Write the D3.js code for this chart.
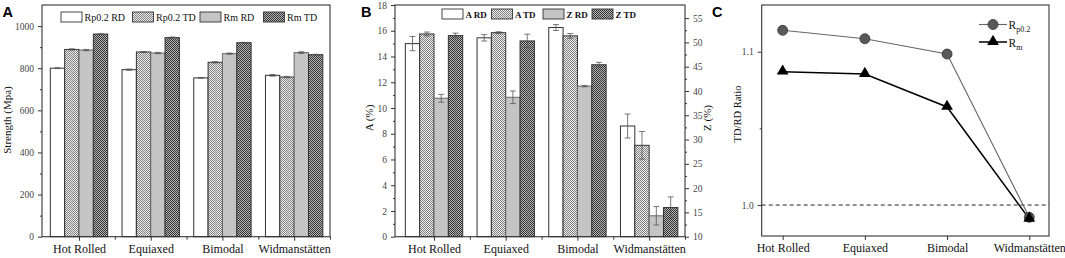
<!DOCTYPE html>
<html>
<head>
<meta charset="utf-8">
<script src="https://cdn.jsdelivr.net/npm/d3@7"></script>
<style>
body { margin: 0; background: #fff; }
svg text { font-family: "Liberation Serif", "DejaVu Serif", serif; }
</style>
</head>
<body>
<div id="chart"></div>
<script>
var categories = ["Hot Rolled", "Equiaxed", "Bimodal", "Widmanstätten"];

// panel A: strength (MPa)
var rpRD = [800, 793, 754, 766];
var rpTD = [889, 877, 828, 758];
var rmRD = [886, 872, 869, 874];
var rmTD = [962, 945, 921, 864];
var rpRDErr = [2, 3, 2, 4];
var rpTDErr = [3, 2, 3, 3];
var rmRDErr = [3, 3, 3, 4];
var rmTDErr = [2, 3, 2, 2];

// panel B: elongation A (%) and reduction of area Z (%)
var aRD = [15.0, 15.45, 16.25, 8.6];
var aRDErr = [0.55, 0.25, 0.23, 0.93];
var aTD = [15.75, 15.85, 15.6, 7.1];
var aTDErr = [0.15, 0.07, 0.18, 1.07];
var zRD = [38.5, 38.7, 41.0, 14.3];
var zRDErr = [0.8, 1.3, 0.15, 1.9];
var zTD = [51.4, 50.3, 45.4, 16.0];
var zTDErr = [0.5, 1.4, 0.5, 2.2];

// panel C: TD/RD ratio
var ratioRp = [1.114, 1.1085, 1.0985, 0.992];
var ratioRm = [1.087, 1.0855, 1.064, 0.991];

var SERIF = "Liberation Serif, DejaVu Serif, serif";
var W = 1065, H = 258;
var svg = d3.select("#chart").append("svg")
    .attr("width", W)
    .attr("height", H)
    .attr("font-family", SERIF);

// fill patterns
var defs = svg.append("defs");
function checker(id, bg, fg) {
  var p = defs.append("pattern")
      .attr("id", id)
      .attr("width", 2).attr("height", 2)
      .attr("patternUnits", "userSpaceOnUse");
  p.append("rect").attr("width", 2).attr("height", 2).attr("fill", bg);
  p.append("rect").attr("width", 1).attr("height", 1).attr("fill", fg);
  p.append("rect").attr("x", 1).attr("y", 1).attr("width", 1).attr("height", 1).attr("fill", fg);
}
checker("lightCheck", "#eeeeee", "#808080");
checker("darkCheck", "#b5b5b5", "#333333");

var fills = ["#fff", "url(#lightCheck)", "#c4c4c4", "url(#darkCheck)"];
var strokes = ["#333", "#333", "#666", "#333"];

function styleAxis(g, fontSize) {
  g.attr("font-family", null).attr("font-size", null);
  g.select(".domain").remove();
  g.selectAll("line").attr("stroke", "#333");
  g.selectAll("text")
    .attr("font-size", fontSize)
    .attr("font-family", SERIF)
    .attr("fill", "#444");
}

function frame(x0, y0, x1, y1) {
  svg.append("rect")
    .attr("x", x0).attr("y", y0)
    .attr("width", x1 - x0).attr("height", y1 - y0)
    .attr("fill", "none")
    .attr("stroke", "#333")
    .attr("stroke-width", 1.1);
}

function catAxis(x, yPos, minor) {
  var g = svg.append("g").attr("transform", "translate(0," + yPos + ")");
  g.call(d3.axisBottom(x).tickValues([0, 1, 2, 3]).tickSize(4)
      .tickFormat(function(d) { return categories[d]; }));
  styleAxis(g, 12);
  g.selectAll("text").attr("fill", "#111").attr("y", 0).attr("dy", 16.3);
  if (minor) {
    var m = svg.append("g").attr("transform", "translate(0," + yPos + ")");
    m.call(d3.axisBottom(x).tickValues([0.5, 1.5, 2.5, 3.5]).tickSize(3).tickFormat(""));
    styleAxis(m, 9);
  }
}

function leftAxis(y, xPos, major, minor, fmt) {
  var g = svg.append("g").attr("transform", "translate(" + xPos + ",0)");
  g.call(d3.axisLeft(y).tickValues(major).tickSize(4).tickPadding(4).tickFormat(fmt));
  styleAxis(g, 9.5);
  var m = svg.append("g").attr("transform", "translate(" + xPos + ",0)");
  m.call(d3.axisLeft(y).tickValues(minor).tickSize(2).tickFormat(""));
  styleAxis(m, 9);
}

function panelLabel(t, x) {
  svg.append("text")
    .attr("x", x).attr("y", 16.5)
    .attr("font-size", 14.5)
    .attr("font-weight", "bold")
    .attr("font-family", "Liberation Sans, Arial, sans-serif")
    .style("font-family", "Liberation Sans, Arial, sans-serif")
    .text(t);
}

function yTitle(t, x, y, size) {
  svg.append("text")
    .attr("transform", "translate(" + x + "," + y + ") rotate(-90)")
    .attr("text-anchor", "middle")
    .attr("font-size", size)
    .attr("fill", "#111")
    .text(t);
}

function errorBar(g, cx, yTop, yBot) {
  g.append("line").attr("x1", cx).attr("x2", cx).attr("y1", yTop).attr("y2", yBot);
  g.append("line").attr("x1", cx - 3).attr("x2", cx + 3).attr("y1", yTop).attr("y2", yTop);
  g.append("line").attr("x1", cx - 3).attr("x2", cx + 3).attr("y1", yBot).attr("y2", yBot);
}

function legendBoxes(items, yTop, fontSize, weight) {
  items.forEach(function(it, j) {
    svg.append("rect")
      .attr("x", it.x).attr("y", yTop)
      .attr("width", 21).attr("height", 10)
      .attr("fill", fills[j]).attr("stroke", "#333").attr("stroke-width", 0.9);
    svg.append("text")
      .attr("x", it.x + 23.5).attr("y", yTop + 9)
      .attr("font-size", fontSize)
      .attr("font-weight", weight)
      .attr("fill", "#111")
      .text(it.label);
  });
}

// ---------------- Panel A ----------------
(function() {
  var left = 42, right = 330, top = 5, bottom = 236.7;
  var x = d3.scaleLinear().domain([-0.516, 3.5]).range([left, right]);
  var y = d3.scaleLinear().domain([0, 1100]).range([bottom, top]);
  var bw = (x(1) - x(0)) * 0.2;
  var series = [rpRD, rpTD, rmRD, rmTD];
  var errs = [rpRDErr, rpTDErr, rmRDErr, rmTDErr];

  var g = svg.append("g");
  series.forEach(function(s, j) {
    g.selectAll(null).data(s).enter().append("rect")
      .attr("x", function(d, i) { return x(i) - 2 * bw + j * bw; })
      .attr("y", function(d) { return y(d); })
      .attr("width", bw)
      .attr("height", function(d) { return y(0) - y(d); })
      .attr("fill", fills[j])
      .attr("stroke", strokes[j])
      .attr("stroke-width", 1);
  });
  var eg = svg.append("g").attr("stroke", "#555").attr("stroke-width", 0.8);
  series.forEach(function(s, j) {
    s.forEach(function(d, i) {
      var cx = x(i) - 2 * bw + j * bw + bw / 2;
      errorBar(eg, cx, y(d + errs[j][i]), y(d - errs[j][i]));
    });
  });

  frame(left, top, right, bottom);
  leftAxis(y, left, d3.range(0, 1001, 200), d3.range(100, 1000, 200), d3.format("d"));
  catAxis(x, bottom, true);
  yTitle("Strength (Mpa)", 10.5, 120, 11);
  panelLabel("A", 2.5);
  legendBoxes([
    {x: 61, label: "Rp0.2 RD"}, {x: 132.5, label: "Rp0.2 TD"},
    {x: 200, label: "Rm RD"}, {x: 263.5, label: "Rm TD"}
  ], 12, 10, "normal");
})();

// ---------------- Panel B ----------------
(function() {
  var left = 395, right = 685, top = 5, bottom = 236.7;
  var x = d3.scaleLinear().domain([-0.544, 3.5]).range([left, right]);
  var yA = d3.scaleLinear().domain([0, 18]).range([bottom, top]);
  var yZ = d3.scaleLinear().domain([10, 57.7]).range([bottom, top]);
  var bw = (x(1) - x(0)) * 0.2;
  var series = [aRD, aTD, zRD, zTD];
  var errs = [aRDErr, aTDErr, zRDErr, zTDErr];
  var scales = [yA, yA, yZ, yZ];

  var g = svg.append("g");
  series.forEach(function(s, j) {
    var y = scales[j];
    g.selectAll(null).data(s).enter().append("rect")
      .attr("x", function(d, i) { return x(i) - 2 * bw + j * bw; })
      .attr("y", function(d) { return y(d); })
      .attr("width", bw)
      .attr("height", function(d) { return bottom - y(d); })
      .attr("fill", fills[j])
      .attr("stroke", strokes[j])
      .attr("stroke-width", 1);
  });
  var eg = svg.append("g").attr("stroke", "#555").attr("stroke-width", 0.8);
  series.forEach(function(s, j) {
    var y = scales[j];
    s.forEach(function(d, i) {
      var cx = x(i) - 2 * bw + j * bw + bw / 2;
      errorBar(eg, cx, y(d + errs[j][i]), y(d - errs[j][i]));
    });
  });

  frame(left, top, right, bottom);
  leftAxis(yA, left, d3.range(0, 18.1, 2), d3.range(1, 18, 2), d3.format("d"));

  var r = svg.append("g").attr("transform", "translate(" + right + ",0)");
  r.call(d3.axisRight(yZ).tickValues(d3.range(10, 56, 5)).tickSize(4).tickPadding(4));
  styleAxis(r, 9.5);
  var rm = svg.append("g").attr("transform", "translate(" + right + ",0)");
  rm.call(d3.axisRight(yZ).tickValues(d3.range(12.5, 56, 5)).tickSize(2).tickFormat(""));
  styleAxis(rm, 9);

  catAxis(x, bottom, true);
  yTitle("A (%)", 373, 118, 11);
  yTitle("Z (%)", 711, 118, 11);
  panelLabel("B", 361);
  legendBoxes([
    {x: 442, label: "A RD"}, {x: 491.5, label: "A TD"},
    {x: 543, label: "Z RD"}, {x: 592, label: "Z TD"}
  ], 9, 9, "bold");
})();

// ---------------- Panel C ----------------
(function() {
  var left = 761.7, right = 1049, top = 5, bottom = 236;
  var x = d3.scaleLinear().domain([-0.255, 3.24]).range([left, right]);
  var y = d3.scaleLinear().domain([0.9798, 1.1305]).range([bottom, top]);

  svg.append("line")
    .attr("x1", left).attr("x2", right)
    .attr("y1", y(1.0)).attr("y2", y(1.0))
    .attr("stroke", "#222")
    .attr("stroke-width", 1)
    .attr("stroke-dasharray", "4,3");

  var line = d3.line()
    .x(function(d, i) { return x(i); })
    .y(function(d) { return y(d); });

  svg.append("path").datum(ratioRp)
    .attr("d", line).attr("fill", "none")
    .attr("stroke", "#666").attr("stroke-width", 1.1);
  svg.append("path").datum(ratioRm)
    .attr("d", line).attr("fill", "none")
    .attr("stroke", "#000").attr("stroke-width", 1.5);

  var tri = d3.symbol().type(d3.symbolTriangle).size(60);
  svg.selectAll(null).data(ratioRp).enter().append("circle")
    .attr("cx", function(d, i) { return x(i); })
    .attr("cy", function(d) { return y(d); })
    .attr("r", 5)
    .attr("fill", "#595959")
    .attr("stroke", "#333")
    .attr("stroke-width", 0.8);
  svg.selectAll(null).data(ratioRm).enter().append("path")
    .attr("d", tri)
    .attr("transform", function(d, i) { return "translate(" + x(i) + "," + (y(d) - 0.5) + ")"; })
    .attr("fill", "#000");

  frame(left, top, right, bottom);
  leftAxis(y, left, [1.0, 1.1], [1.05], d3.format(".1f"));
  catAxis(x, bottom, false);
  yTitle("TD/RD Ratio", 741, 114, 10.5);
  panelLabel("C", 712);

  // legend
  var lx0 = 979, lx1 = 1007;
  svg.append("line").attr("x1", lx0).attr("x2", lx1).attr("y1", 24.5).attr("y2", 24.5)
    .attr("stroke", "#666").attr("stroke-width", 1.1);
  svg.append("circle").attr("cx", (lx0 + lx1) / 2).attr("cy", 24.5).attr("r", 5)
    .attr("fill", "#595959").attr("stroke", "#333").attr("stroke-width", 0.8);
  svg.append("line").attr("x1", lx0).attr("x2", lx1).attr("y1", 42).attr("y2", 42)
    .attr("stroke", "#000").attr("stroke-width", 1.5);
  svg.append("path").attr("d", tri)
    .attr("transform", "translate(" + ((lx0 + lx1) / 2) + ",41.5)")
    .attr("fill", "#000");

  var t1 = svg.append("text").attr("x", lx1 + 1.5).attr("y", 29).attr("font-size", 11.5).attr("fill", "#111");
  t1.append("tspan").text("R");
  t1.append("tspan").attr("font-size", 8).attr("dy", 3).text("p0.2");
  var t2 = svg.append("text").attr("x", lx1 + 1.5).attr("y", 46.5).attr("font-size", 11.5).attr("fill", "#111");
  t2.append("tspan").text("R");
  t2.append("tspan").attr("font-size", 8).attr("dy", 3).text("m");
})();
</script>
</body>
</html>
